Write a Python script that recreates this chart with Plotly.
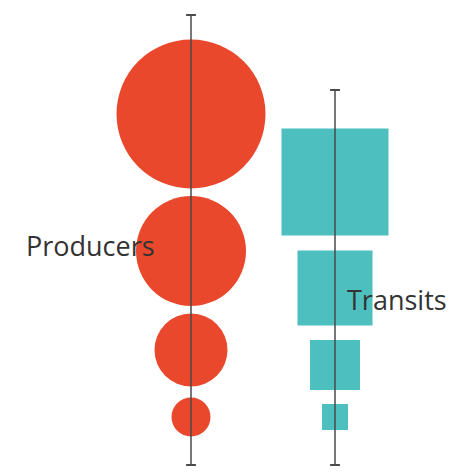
import plotly.graph_objects as go

W, H = 451, 472

# Producers (circles) — diameters and vertical centres (px-scale units)
producer_sizes = [149, 110, 73, 39]
producer_y = [114, 251, 350, 417]
producer_x = 191

# Transits (squares) — side lengths and vertical centres
transit_sizes = [107, 75, 50, 26]
transit_y = [182, 288, 365, 417]
transit_x = 335

# Axis lines (top, bottom)
producer_line = [15, 465]
transit_line = [90, 465]

labels = ["Producers", "Transits"]
label_pos = [(90, 245), (397, 299)]

red = "#E9482C"
teal = "#4EBFBF"
line_col = "#4a4a4a"

fig = go.Figure()

fig.add_trace(go.Scatter(
    x=[producer_x] * len(producer_sizes), y=producer_y, mode="markers",
    marker=dict(symbol="circle", size=producer_sizes, sizemode="diameter",
                color=red, opacity=1, line=dict(width=0)),
    hoverinfo="skip", showlegend=False))

fig.add_trace(go.Scatter(
    x=[transit_x] * len(transit_sizes), y=transit_y, mode="markers",
    marker=dict(symbol="square", size=transit_sizes,
                color=teal, opacity=1, line=dict(width=0)),
    hoverinfo="skip", showlegend=False))

for xv, yl in [(producer_x, producer_line), (transit_x, transit_line)]:
    fig.add_trace(go.Scatter(
        x=[xv, xv], y=yl, mode="lines+markers",
        line=dict(color=line_col, width=1.5),
        marker=dict(symbol="line-ew", size=7, line=dict(color=line_col, width=2)),
        hoverinfo="skip", showlegend=False))

for txt, (lx, ly) in zip(labels, label_pos):
    fig.add_annotation(x=lx, y=ly, text=txt, showarrow=False,
                       font=dict(family="Open Sans", size=27, color="#333333"),
                       xanchor="center", yanchor="middle")

fig.update_layout(
    width=W, height=H, margin=dict(l=0, r=0, t=0, b=0),
    paper_bgcolor="white", plot_bgcolor="white",
    xaxis=dict(range=[0, W], visible=False, fixedrange=True),
    yaxis=dict(range=[H, 0], visible=False, fixedrange=True),
)

fig.write_html(
    "out.html",
    config={"displayModeBar": False, "staticPlot": True},
    post_script="document.body.style.margin='0';document.body.style.overflow='hidden';",
)
